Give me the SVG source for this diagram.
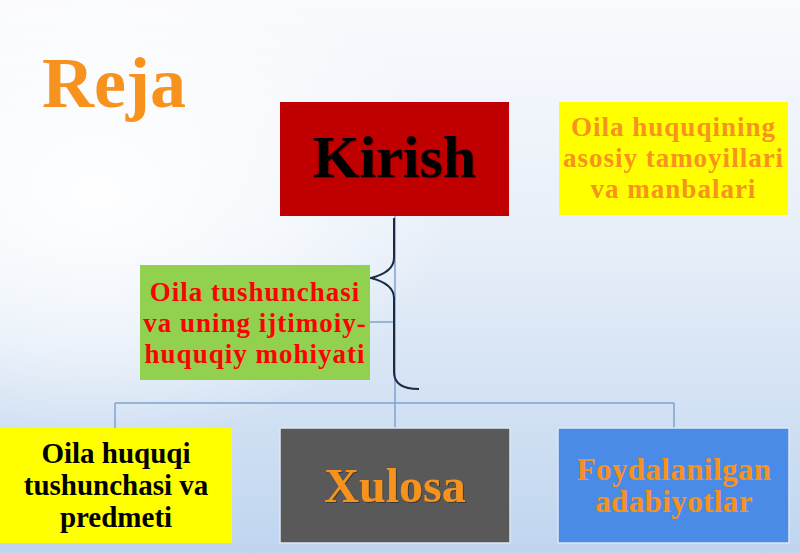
<svg xmlns="http://www.w3.org/2000/svg" width="800" height="553" viewBox="0 0 800 553">
<defs>
<linearGradient id="bg" x1="0" y1="0" x2="0" y2="1">
<stop offset="0" stop-color="#F9FAFD"/>
<stop offset="0.45" stop-color="#E6EEF8"/>
<stop offset="1" stop-color="#BFD5EF"/>
</linearGradient>
<radialGradient id="glow" cx="0.12" cy="0.35" r="0.45">
<stop offset="0" stop-color="#FFFFFF" stop-opacity="0.95"/>
<stop offset="0.6" stop-color="#FFFFFF" stop-opacity="0.5"/>
<stop offset="1" stop-color="#FFFFFF" stop-opacity="0"/>
</radialGradient>
<filter id="sh" x="-10%" y="-10%" width="120%" height="130%">
<feDropShadow dx="1" dy="1" stdDeviation="0.6" flood-color="#000" flood-opacity="0.35"/>
</filter>
</defs>
<style>
text{font-family:"Liberation Serif","Times New Roman",serif;font-weight:bold;text-anchor:middle}
.conn{stroke:#7FA3CC;stroke-width:1.5;fill:none}
.brace{stroke:#1B2A44;stroke-width:2;fill:none}
.org{fill:#F7921E}
.lbl{font-size:27px}
</style>
<rect width="800" height="553" fill="url(#bg)"/>
<rect width="800" height="553" fill="url(#glow)"/>
<text id="title" x="42" y="107" font-size="72" fill="#F7921E" style="text-anchor:start">Reja</text>
<g id="connectors">
<path class="conn" d="M395 216 V428 M115 403 H674 M115 403 V428 M674 403 V428 M370 322 H395"/>
<path class="brace" d="M394 218 L394 258 Q394 272 371 278 Q394 284 394 298 L394 372 Q394 389 419 389"/>
</g>
<g id="kirish">
<rect x="280" y="102" width="229" height="114" fill="#C00000"/>
<text x="394.5" y="177" font-size="60" fill="#000" filter="url(#sh)">Kirish</text>
</g>
<g id="asosiy">
<rect x="559" y="102" width="229" height="113" fill="#FFFF00"/>
<text class="lbl org" x="673.5" y="136" letter-spacing="1">Oila huquqining</text>
<text class="lbl org" x="673.5" y="167" letter-spacing="1">asosiy tamoyillari</text>
<text class="lbl org" x="673.5" y="198" letter-spacing="1">va manbalari</text>
</g>
<g id="tushuncha">
<rect x="140" y="265" width="230" height="115" fill="#92D050"/>
<text class="lbl" x="255" y="301" fill="#FF0000" letter-spacing="1">Oila tushunchasi</text>
<text class="lbl" x="255" y="332" fill="#FF0000" letter-spacing="1">va uning ijtimoiy-</text>
<text class="lbl" x="255" y="363" fill="#FF0000" letter-spacing="1">huquqiy mohiyati</text>
</g>
<g id="predmet">
<rect x="0" y="428" width="232" height="115" fill="#FFFF00"/>
<text x="116" y="463" font-size="29" fill="#000">Oila huquqi</text>
<text x="116" y="495" font-size="29" fill="#000">tushunchasi va</text>
<text x="116" y="527" font-size="29" fill="#000">predmeti</text>
</g>
<g id="xulosa">
<rect x="280" y="428" width="230" height="115" fill="#595959" stroke="#DCE7F4" stroke-width="1.5"/>
<text class="org" x="395" y="502" font-size="48" filter="url(#sh)">Xulosa</text>
</g>
<g id="adabiyot">
<rect x="558" y="428" width="231" height="115" fill="#4A8BE8" stroke="#DCE7F4" stroke-width="1.5"/>
<text class="org" x="674" y="480" font-size="31" letter-spacing="0.4">Foydalanilgan</text>
<text class="org" x="674" y="512" font-size="31" letter-spacing="0.4">adabiyotlar</text>
</g>
</svg>
